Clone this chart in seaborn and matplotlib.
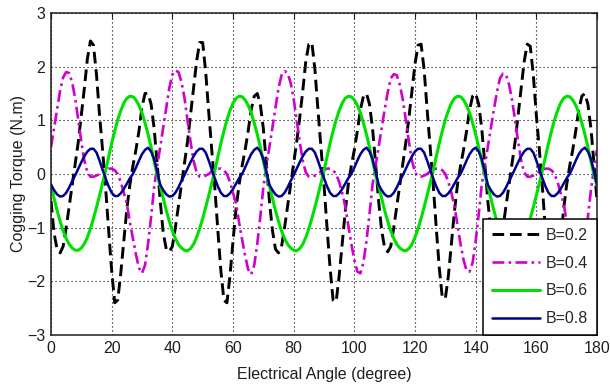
import numpy as np
import pandas as pd
import matplotlib
matplotlib.use("Agg")
import matplotlib.pyplot as plt
import seaborn as sns

# Electrical angle (degree), 1-degree sampling
angle = list(range(0, 181))

b02 = [
    -0.5, -1.1, -1.4, -1.47, -1.35, -1.0, -0.6, -0.2, 0.2, 0.6, 1.1, 1.6, 2.15, 2.48, 2.4, 1.85, 1.1, 0.45,
    -0.25, -1.05, -1.8, -2.4, -2.35, -1.85, -1.25, -0.65, -0.2, 0.15, 0.45, 0.8, 1.25, 1.5, 1.5, 1.3, 0.85, 0.2,
    -0.5, -1.1, -1.4, -1.45, -1.35, -1.0, -0.6, -0.2, 0.2, 0.6, 1.1, 1.6, 2.1, 2.45, 2.45, 1.9, 1.15, 0.45,
    -0.25, -1.05, -1.8, -2.35, -2.4, -1.9, -1.25, -0.65, -0.2, 0.15, 0.45, 0.8, 1.2, 1.45, 1.5, 1.3, 0.85, 0.2,
    -0.5, -1.05, -1.4, -1.47, -1.35, -1.0, -0.6, -0.2, 0.2, 0.6, 1.05, 1.55, 2.1, 2.42, 2.45, 1.95, 1.2, 0.5,
    -0.2, -1.0, -1.75, -2.35, -2.38, -1.9, -1.3, -0.7, -0.2, 0.15, 0.45, 0.8, 1.2, 1.45, 1.5, 1.3, 0.85, 0.2,
    -0.5, -1.05, -1.38, -1.45, -1.35, -1.0, -0.6, -0.2, 0.2, 0.6, 1.05, 1.55, 2.05, 2.4, 2.42, 1.95, 1.2, 0.5,
    -0.2, -1.0, -1.75, -2.3, -2.32, -1.9, -1.3, -0.7, -0.2, 0.15, 0.45, 0.8, 1.2, 1.45, 1.5, 1.3, 0.85, 0.2,
    -0.5, -1.05, -1.38, -1.45, -1.35, -1.0, -0.6, -0.2, 0.2, 0.6, 1.1, 1.6, 2.1, 2.42, 2.38, 1.85, 1.1, 0.45,
    -0.25, -1.05, -1.8, -2.3, -2.3, -1.85, -1.25, -0.65, -0.2, 0.15, 0.45, 0.8, 1.2, 1.45, 1.5, 1.3, 0.85, 0.2,
    -0.5,
]

b04 = [
    0.5, 0.85, 1.2, 1.55, 1.8, 1.9, 1.88, 1.7, 1.4, 1.0, 0.6, 0.25, 0.03, -0.05, -0.05, -0.03, 0.0, 0.05,
    0.08, 0.1, 0.1, 0.07, 0.0, -0.15, -0.35, -0.55, -0.9, -1.2, -1.5, -1.75, -1.85, -1.7, -1.3, -0.8, -0.25, 0.15,
    0.5, 0.87, 1.25, 1.6, 1.85, 1.93, 1.9, 1.72, 1.42, 1.0, 0.6, 0.25, 0.03, -0.05, -0.05, -0.03, 0.0, 0.05,
    0.08, 0.1, 0.1, 0.07, 0.0, -0.15, -0.35, -0.55, -0.9, -1.22, -1.52, -1.78, -1.87, -1.7, -1.3, -0.8, -0.25, 0.15,
    0.5, 0.87, 1.25, 1.6, 1.84, 1.92, 1.88, 1.7, 1.4, 1.0, 0.6, 0.25, 0.03, -0.05, -0.05, -0.03, 0.0, 0.05,
    0.08, 0.1, 0.1, 0.07, 0.0, -0.15, -0.35, -0.6, -0.95, -1.3, -1.6, -1.82, -1.85, -1.65, -1.25, -0.75, -0.2, 0.15,
    0.5, 0.85, 1.2, 1.52, 1.78, 1.86, 1.84, 1.66, 1.38, 1.0, 0.6, 0.25, 0.03, -0.05, -0.05, -0.03, 0.0, 0.05,
    0.08, 0.1, 0.1, 0.07, 0.0, -0.15, -0.35, -0.6, -0.95, -1.3, -1.6, -1.8, -1.82, -1.65, -1.25, -0.75, -0.2, 0.15,
    0.5, 0.85, 1.2, 1.52, 1.78, 1.87, 1.85, 1.67, 1.38, 1.0, 0.6, 0.25, 0.03, -0.05, -0.05, -0.03, 0.0, 0.05,
    0.08, 0.1, 0.1, 0.07, 0.0, -0.15, -0.35, -0.55, -0.9, -1.2, -1.5, -1.72, -1.8, -1.65, -1.25, -0.8, -0.3, 0.1,
    0.45,
]

b06 = [
    -0.2, -0.45, -0.68, -0.88, -1.06, -1.2, -1.31, -1.38, -1.42, -1.42, -1.38, -1.3, -1.18, -1.02, -0.83, -0.62, -0.4, -0.17,
    0.06, 0.32, 0.57, 0.8, 1.01, 1.18, 1.32, 1.41, 1.45, 1.44, 1.38, 1.28, 1.14, 0.95, 0.74, 0.5, 0.24, -0.02,
    -0.22, -0.45, -0.68, -0.88, -1.06, -1.2, -1.31, -1.38, -1.42, -1.43, -1.39, -1.31, -1.18, -1.02, -0.83, -0.62, -0.4, -0.17,
    0.06, 0.32, 0.57, 0.8, 1.01, 1.18, 1.32, 1.41, 1.45, 1.44, 1.38, 1.28, 1.14, 0.95, 0.74, 0.5, 0.24, -0.02,
    -0.22, -0.45, -0.68, -0.88, -1.06, -1.2, -1.31, -1.38, -1.42, -1.43, -1.39, -1.31, -1.18, -1.02, -0.83, -0.62, -0.4, -0.17,
    0.06, 0.32, 0.57, 0.8, 1.01, 1.18, 1.32, 1.41, 1.45, 1.44, 1.38, 1.28, 1.14, 0.95, 0.74, 0.5, 0.24, -0.02,
    -0.22, -0.45, -0.68, -0.88, -1.06, -1.2, -1.31, -1.38, -1.42, -1.43, -1.39, -1.31, -1.18, -1.02, -0.83, -0.62, -0.4, -0.17,
    0.06, 0.32, 0.57, 0.8, 1.01, 1.18, 1.32, 1.41, 1.45, 1.44, 1.38, 1.28, 1.14, 0.95, 0.74, 0.5, 0.24, -0.02,
    -0.22, -0.45, -0.68, -0.88, -1.06, -1.2, -1.31, -1.38, -1.42, -1.43, -1.39, -1.31, -1.18, -1.02, -0.83, -0.62, -0.4, -0.17,
    0.06, 0.32, 0.57, 0.8, 1.01, 1.18, 1.32, 1.41, 1.45, 1.44, 1.38, 1.28, 1.14, 0.95, 0.74, 0.5, 0.24, -0.02,
    -0.22,
]

b08 = [
    -0.2, -0.3, -0.38, -0.42, -0.41, -0.35, -0.25, -0.13, -0.02, 0.1, 0.22, 0.33, 0.42, 0.47, 0.47, 0.4, 0.25, 0.08,
    -0.08, -0.23, -0.35, -0.41, -0.41, -0.36, -0.28, -0.18, -0.08, 0.0, 0.12, 0.25, 0.37, 0.45, 0.49, 0.42, 0.28, 0.05,
    -0.2, -0.3, -0.38, -0.42, -0.41, -0.35, -0.25, -0.13, -0.02, 0.1, 0.22, 0.33, 0.42, 0.47, 0.47, 0.4, 0.25, 0.08,
    -0.08, -0.23, -0.35, -0.41, -0.41, -0.36, -0.28, -0.18, -0.08, 0.0, 0.12, 0.25, 0.37, 0.45, 0.49, 0.42, 0.28, 0.05,
    -0.2, -0.3, -0.38, -0.42, -0.41, -0.35, -0.25, -0.13, -0.02, 0.1, 0.22, 0.33, 0.42, 0.47, 0.47, 0.4, 0.25, 0.08,
    -0.08, -0.23, -0.35, -0.41, -0.41, -0.36, -0.28, -0.18, -0.08, 0.0, 0.12, 0.25, 0.37, 0.45, 0.49, 0.42, 0.28, 0.05,
    -0.2, -0.3, -0.38, -0.42, -0.41, -0.35, -0.25, -0.13, -0.02, 0.1, 0.22, 0.33, 0.42, 0.47, 0.47, 0.4, 0.25, 0.08,
    -0.08, -0.23, -0.35, -0.41, -0.41, -0.36, -0.28, -0.18, -0.08, 0.0, 0.12, 0.25, 0.37, 0.45, 0.49, 0.42, 0.28, 0.05,
    -0.2, -0.3, -0.38, -0.42, -0.41, -0.35, -0.25, -0.13, -0.02, 0.1, 0.22, 0.33, 0.42, 0.47, 0.47, 0.4, 0.25, 0.08,
    -0.08, -0.23, -0.35, -0.41, -0.41, -0.36, -0.28, -0.18, -0.08, 0.0, 0.12, 0.25, 0.37, 0.45, 0.49, 0.42, 0.28, 0.05,
    -0.2,
]

series_labels = ["B=0.2", "B=0.4", "B=0.6", "B=0.8"]
x_ticks = [0, 20, 40, 60, 80, 100, 120, 140, 160, 180]
y_ticks = [-3, -2, -1, 0, 1, 2, 3]

sns.set_style("white")
plt.rcParams["font.family"] = ["Liberation Sans", "DejaVu Sans"]

FS = 11.5
TXT = "#1e1e1e"

fig = plt.figure(figsize=(6.1, 3.89), dpi=100)
ax = fig.add_axes([51 / 610, 1 - 335 / 389, (597 - 51) / 610, (335 - 13) / 389])

styles = [
    dict(color="black", dashes=(4.0, 2.0), lw=2.1),
    dict(color="#D000D0", dashes=(4.5, 1.6, 1.0, 1.6), lw=1.9),
    dict(color="#00E000", dashes=None, lw=2.2),
    dict(color="#000090", dashes=None, lw=1.8),
]

for vals, lab, st in zip([b02, b04, b06, b08], series_labels, styles):
    df = pd.DataFrame({"angle": angle, "torque": vals})
    sns.lineplot(data=df, x="angle", y="torque", ax=ax, color=st["color"],
                 linewidth=st["lw"], label=lab, estimator=None, sort=False)
    line = ax.get_lines()[-1]
    if st["dashes"] is not None:
        line.set_dashes(st["dashes"])

ax.set_xlim(0, 180)
ax.set_ylim(-3, 3)
ax.set_xticks(x_ticks)
ax.set_yticks(y_ticks)
ax.grid(True, color="black", linestyle=(0, (1, 2.6)), linewidth=0.8)
ax.set_axisbelow(True)
for s in ax.spines.values():
    s.set_visible(True)
    s.set_color(TXT)
    s.set_linewidth(1.1)
ax.tick_params(direction="in", length=4, width=0.8, top=True, right=True,
               labelsize=FS, colors=TXT, pad=4)
ax.set_xlabel("Electrical Angle (degree)", fontsize=FS, color=TXT, labelpad=8)
ax.set_ylabel("Cogging Torque (N.m)", fontsize=FS, color=TXT, labelpad=1)

leg = ax.legend(loc="lower right", borderaxespad=0, frameon=True, fancybox=False,
                fontsize=FS, handlelength=3.0, labelspacing=0.8, borderpad=0.55,
                handletextpad=0.4, framealpha=1)
leg.get_frame().set_edgecolor("black")
leg.get_frame().set_linewidth(1.1)

fig.savefig("out.png", dpi=100)
